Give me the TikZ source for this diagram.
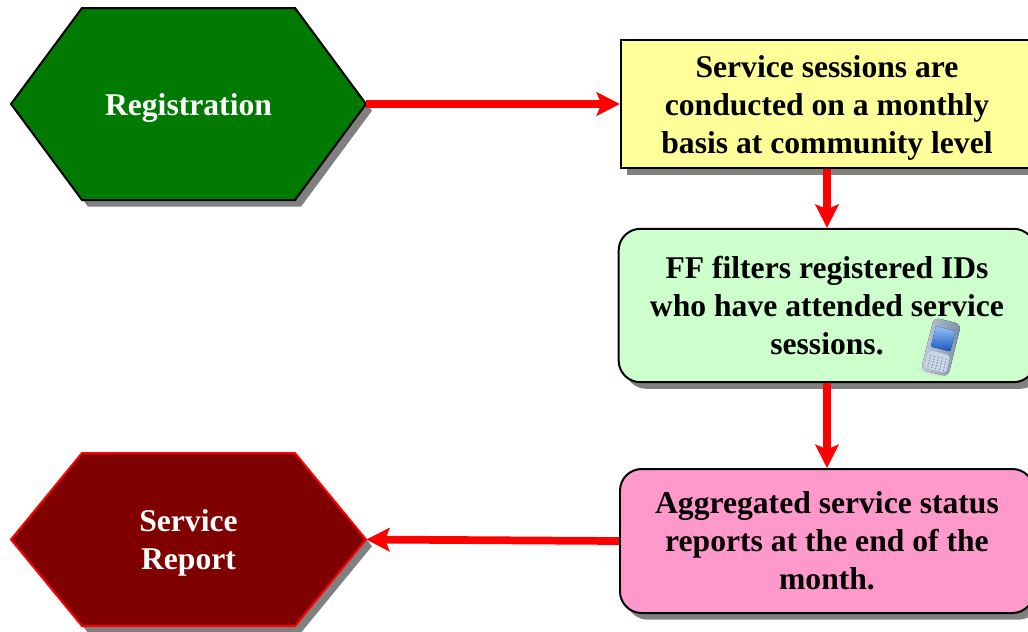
\documentclass[tikz,border=0pt]{standalone}
\usepackage{fontspec}
\setmainfont{Liberation Serif}
\usetikzlibrary{arrows.meta,shadows}
\definecolor{hexgreen}{RGB}{0,122,0}
\definecolor{hexred}{RGB}{128,0,0}
\definecolor{boxyellow}{RGB}{255,255,153}
\definecolor{boxgreen}{RGB}{204,255,204}
\definecolor{boxpink}{RGB}{255,153,204}
\definecolor{phonebody}{RGB}{168,186,212}
\definecolor{phoneedge}{RGB}{125,140,165}
\definecolor{phonetop}{RGB}{150,195,245}
\definecolor{phonelow}{RGB}{25,85,195}
\newcommand{\dropline}{\rule{0pt}{25pt}}
\tikzset{
	lbl/.style={font=\fontsize{27}{32.4}\selectfont\bfseries, align=center},
	shade6/.style={drop shadow={shadow xshift=0.18cm, shadow yshift=-0.2cm, fill=gray, opacity=1}},
	hexshape/.style={shade6, line width=1.7pt, line join=miter},
	hexbox/.style={lbl, text=white, inner sep=0pt, minimum width=10.65cm},
	flowbox/.style={lbl, shade6, draw=black, line width=1.7pt, inner sep=0pt},
	flowline/.style={red, line width=6.6pt, -{Stealth[length=0.7cm, width=0.7cm, inset=0.14cm]}}
}
\begin{document}
\begin{tikzpicture}[x=0.03cm, y=-0.03cm]
	\useasboundingbox (0,0) rectangle (1028,631);
	\draw[hexshape, fill=hexgreen, draw=black] (11,104) -- (82,8) -- (295,8) -- (366,104) -- (295,200) -- (82,200) -- cycle;
	\draw[hexshape, fill=hexred, draw=red] (11,539.5) -- (82,453) -- (295,453) -- (366,539.5) -- (295,626) -- (82,626) -- cycle;
	\node[hexbox] (registration) at (188.5,104) {\dropline Registration};
	\node[hexbox] (report) at (188.5,539.5) {\dropline Service\\Report};
	\node[flowbox, fill=boxyellow, minimum width=12.36cm, minimum height=3.84cm] (sessions) at (827,104) {\dropline Service sessions are\\conducted on a monthly\\basis at community level};
	\node[flowbox, rounded corners=0.65cm, fill=boxgreen, minimum width=12.5cm, minimum height=4.6cm] (filters) at (827,305.5) {FF filters registered IDs\\who have attended service\\sessions.};
	\node[flowbox, rounded corners=0.65cm, fill=boxpink, minimum width=12.42cm, minimum height=4.32cm] (status) at (827,541) {Aggregated service status\\reports at the end of the\\month.};
	\draw[flowline] (registration.east) -- (sessions.west);
	\draw[flowline] (sessions.south) -- (filters.north);
	\draw[flowline] (filters.south) -- (status.north);
	\draw[flowline] (status.west) -- (report.east);
	% phone
	\begin{scope}[shift={(941,347)}, rotate=-14]
		\fill[gray!30, opacity=0.5] (-2,27) ellipse (15 and 3);
		\fill[left color=phonebody!70!white, right color=phoneedge, rounded corners=5pt] (-14,-27) rectangle (14,27);
		\fill[top color=phonetop, bottom color=phonelow, rounded corners=1pt] (-10,-19) rectangle (10,2);
		\fill[phonebody!60!white, rounded corners=3pt] (-11,6) rectangle (11,24);
		\foreach \x in {-8,-4,...,8}{
			\draw[phoneedge, line width=0.8pt, dash pattern=on 1.2pt off 1.2pt] (\x,10) -- (\x,23);
		}
	\end{scope}
\end{tikzpicture}
\end{document}
